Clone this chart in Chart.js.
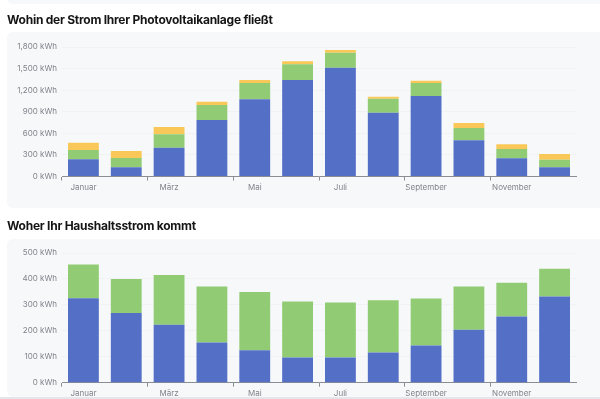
<!DOCTYPE html>
<html>
<head>
<meta charset="utf-8">
<script src="https://cdn.jsdelivr.net/npm/chart.js@4/dist/chart.umd.min.js"></script>
<style>
  html, body { margin: 0; padding: 0; background: #fff; width: 600px; height: 399px; overflow: hidden; }
  .card { position: absolute; left: 7px; width: 600px; background: #f7f8fa; border-radius: 6px; }
  .title { position: absolute; left: 7px; font-family: Inter, "Noto Sans", sans-serif; font-weight: 700; font-size: 12px; letter-spacing: -0.25px; color: #151515; line-height: 16px; white-space: nowrap; }
  canvas { position: absolute; }
</style>
</head>
<body>
<div class="card" style="top:-20px;height:24px;"></div>
<div class="title" style="top:12px;">Wohin der Strom Ihrer Photovoltaikanlage fließt</div>
<div class="card" style="top:32px;height:176px;"></div>
<div class="title" style="top:218px;">Woher Ihr Haushaltsstrom kommt</div>
<div class="card" style="top:239px;height:158px;"></div>
<div style="position:absolute;left:0;top:397px;width:600px;height:2px;background:#e4e6ea;"></div>
<div style="position:absolute;left:7px;top:32px;width:593px;height:176px;"><canvas id="c1" width="593" height="176"></canvas></div>
<div style="position:absolute;left:7px;top:238px;width:593px;height:161px;"><canvas id="c2" width="593" height="161"></canvas></div>
<script>
const months = ["Januar","Februar","März","April","Mai","Juni","Juli","August","September","Oktober","November","Dezember"];

// Chart 1: Wohin der Strom fließt (kWh)
const pvSelf    = [240, 128, 400, 785, 1073, 1341, 1513, 887, 1119, 503, 253, 128];
const pvBattery = [128, 129, 187, 209, 227, 219, 208, 195, 181, 171, 129, 106];
const pvGrid    = [102,  97, 101,  46,  41,  41,  37,  27,  32,  70,  65,  79];
const yTicks1 = [0, 300, 600, 900, 1200, 1500, 1800];

// Chart 2: Woher der Haushaltsstrom kommt (kWh)
const homeGrid = [326, 269, 223, 155, 125, 97, 97, 116, 143, 204, 255, 332];
const homePV   = [130, 131, 192, 216, 225, 216, 212, 202, 182, 167, 130, 107];
const yTicks2 = [0, 100, 200, 300, 400, 500];

const BLUE = "#5470c6", GREEN = "#91cc75", YELLOW = "#fac858";
const tickFont = { family: "Inter, 'Noto Sans', sans-serif", size: 8 };
const tickColor = "#80838a";
const fmt = v => v.toLocaleString("en-US") + " kWh";

function makeOptions(ticks, plotBottom, canvasH) {
  return {
    responsive: false,
    animation: false,
    plugins: { legend: { display: false }, tooltip: { enabled: false } },
    layout: { padding: { top: 15, right: 24, bottom: 0, left: 0 } },
    scales: {
      x: {
        stacked: true,
        border: { display: true, color: "#8a8d94", width: 1 },
        grid: {
          drawOnChartArea: false,
          drawTicks: true,
          tickLength: 4,
          color: ctx => (ctx.index % 2 === 0 ? "#8a8d94" : "rgba(0,0,0,0)")
        },
        ticks: {
          autoSkip: false,
          maxRotation: 0,
          padding: 2,
          font: tickFont,
          color: tickColor,
          callback: function (v, i) { return i % 2 === 0 ? this.getLabelForValue(v) : ""; }
        },
        afterFit: s => { s.height = canvasH - plotBottom; }
      },
      y: {
        stacked: true,
        min: ticks[0],
        max: ticks[ticks.length - 1],
        afterBuildTicks: s => { s.ticks = ticks.map(v => ({ value: v })); },
        border: { display: false },
        grid: { drawTicks: false, color: "rgba(0,0,0,0.025)" },
        ticks: { padding: 5, font: tickFont, color: tickColor, callback: v => fmt(v) },
        afterFit: s => { s.width = 55; }
      }
    }
  };
}

const ds = { barPercentage: 0.9, categoryPercentage: 0.8, borderWidth: 0 };

new Chart(document.getElementById("c1"), {
  type: "bar",
  data: {
    labels: months,
    datasets: [
      Object.assign({ label: "Eigenverbrauch", data: pvSelf, backgroundColor: BLUE }, ds),
      Object.assign({ label: "Batterie", data: pvBattery, backgroundColor: GREEN }, ds),
      Object.assign({ label: "Netzeinspeisung", data: pvGrid, backgroundColor: YELLOW }, ds)
    ]
  },
  options: makeOptions(yTicks1, 144.5, 176)
});

new Chart(document.getElementById("c2"), {
  type: "bar",
  data: {
    labels: months,
    datasets: [
      Object.assign({ label: "Netzbezug", data: homeGrid, backgroundColor: BLUE }, ds),
      Object.assign({ label: "Photovoltaik", data: homePV, backgroundColor: GREEN }, ds)
    ]
  },
  options: makeOptions(yTicks2, 144.7, 161)
});
</script>
</body>
</html>
